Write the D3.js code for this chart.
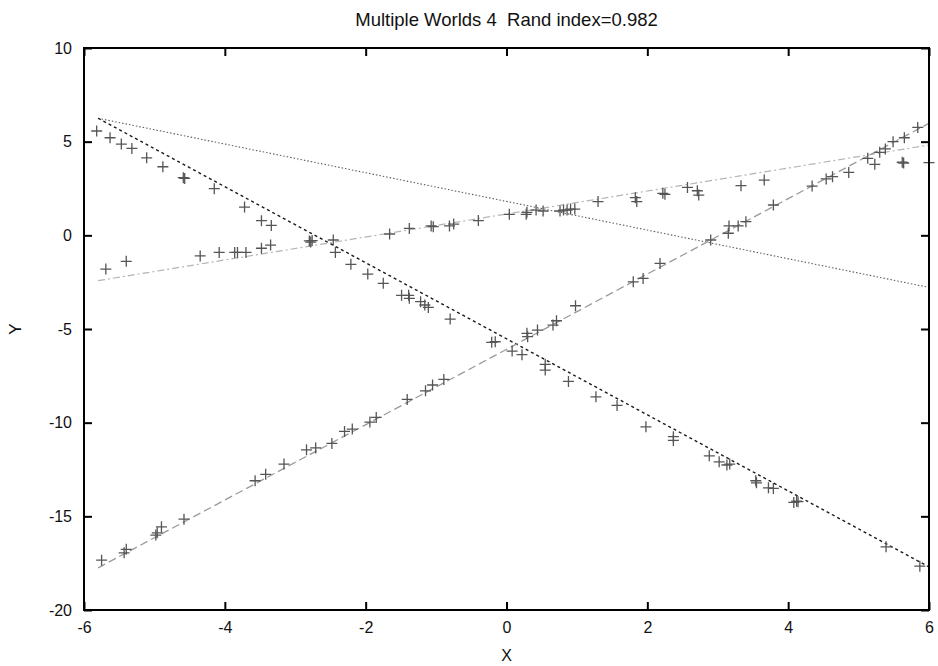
<!DOCTYPE html>
<html>
<head>
<meta charset="utf-8">
<script src="https://cdn.jsdelivr.net/npm/d3@7"></script>
<style>
  html, body { margin: 0; padding: 0; background: #ffffff; }
  svg { display: block; }
  text { font-family: "Liberation Sans", Arial, Helvetica, sans-serif; fill: #111; }
</style>
</head>
<body>
<svg id="chart" width="938" height="666"></svg>
<script>
// Observations (x, y) for the four intersecting worlds
const pointsX = [
  -5.82, -5.63, -5.47, -5.32, -5.11, -4.88, -4.59, -4.57, -4.15, -3.72, -3.48, -3.34,
  -2.80, -2.78, -2.76, -2.46, -2.43, -2.21, -1.97, -1.75, -1.49, -1.39, -1.38, -1.22,
  -1.16, -1.11, -0.80, -0.21, -0.16, 0.08, 0.22, 0.55, 0.55, 0.88, 1.27, 1.57,
  1.98, 2.37, 2.37, 2.88, 3.02, 3.13, 3.17, 3.54, 3.55, 3.72, 3.79, 4.08, 4.12, 4.14,
  5.39, 5.87,
  -5.69, -5.40, -4.35, -4.08, -3.86, -3.82, -3.70, -3.48, -3.35, -1.66, -1.38, -1.07,
  -1.04, -0.81, -0.75, -0.40, 0.04, 0.28, 0.29, 0.42, 0.52, 0.76, 0.81, 0.86, 0.91,
  0.97, 1.30, 1.83, 1.85, 2.22, 2.25, 2.57, 2.71, 2.73, 3.33, 3.66, 5.13, 5.23, 5.62,
  5.64, 6.00,
  -5.75, -5.43, -5.40, -4.98, -4.96, -4.90, -4.58, -3.57, -3.42, -3.16, -2.84, -2.71,
  -2.48, -2.30, -2.19, -1.94, -1.85, -1.41, -1.15, -1.05, -0.89, 0.29, 0.30, 0.44,
  0.66, 0.71, 0.98, 1.80, 1.94, 2.18, 2.90, 3.15, 3.16, 3.29, 3.40, 3.79, 4.34, 4.54,
  4.63, 4.86, 5.30, 5.38, 5.49, 5.65, 5.84
];
const pointsY = [
  5.57, 5.21, 4.87, 4.64, 4.14, 3.66, 3.08, 3.04, 2.49, 1.51, 0.78, 0.53,
  -0.30, -0.36, -0.28, -0.25, -0.91, -1.55, -2.07, -2.56, -3.20, -3.20, -3.36, -3.54,
  -3.72, -3.85, -4.47, -5.71, -5.68, -6.18, -6.37, -6.89, -7.19, -7.80, -8.62, -9.08,
  -10.22, -10.75, -10.95, -11.77, -12.09, -12.26, -12.21, -13.10, -13.21, -13.48, -13.51, -14.26, -14.19, -14.22,
  -16.63, -17.66,
  -1.80, -1.39, -1.10, -0.91, -0.91, -0.91, -0.91, -0.69, -0.52, 0.07, 0.37, 0.50,
  0.46, 0.50, 0.60, 0.79, 1.12, 1.12, 1.23, 1.35, 1.30, 1.30, 1.35, 1.35, 1.40,
  1.40, 1.80, 2.01, 1.80, 2.24, 2.19, 2.56, 2.38, 2.15, 2.65, 2.95, 4.11, 3.79, 3.90,
  3.86, 3.88,
  -17.34, -16.95, -16.76, -16.00, -15.88, -15.56, -15.15, -13.10, -12.76, -12.21, -11.45, -11.35,
  -11.11, -10.47, -10.34, -9.97, -9.72, -8.76, -8.30, -7.99, -7.69, -5.23, -5.41, -5.06,
  -4.79, -4.56, -3.76, -2.48, -2.30, -1.50, -0.25, 0.11, 0.50, 0.50, 0.73, 1.62, 2.63, 3.01,
  3.13, 3.36, 4.43, 4.61, 5.00, 5.21, 5.76
];

// Fitted regression lines, one per world: endpoints in data units
const lineNames = ["world1", "world2", "world3", "world4"];
const lineX0 = [-5.8, -5.8, -5.8, -5.8];
const lineY0 = [6.25, 6.25, -2.42, -17.75];
const lineX1 = [6.0, 6.0, 6.0, 6.0];
const lineY1 = [-2.78, -17.70, 4.82, 5.98];

// Axis ticks
const xTicks = [-6, -4, -2, 0, 2, 4, 6];
const yTicks = [-20, -15, -10, -5, 0, 5, 10];

const titleText = "Multiple Worlds 4  Rand index=0.982";

// Layout
const width = 938, height = 666;
const margin = { left: 84, right: 9, top: 48, bottom: 56 };
const plotW = width - margin.left - margin.right;
const plotH = height - margin.top - margin.bottom;

const x = d3.scaleLinear().domain([-6, 6]).range([margin.left, margin.left + plotW]);
const y = d3.scaleLinear().domain([-20, 10]).range([margin.top + plotH, margin.top]);

const svg = d3.select("#chart");

svg.append("rect").attr("width", width).attr("height", height).attr("fill", "#ffffff");

svg.append("defs").append("clipPath").attr("id", "plotClip")
  .append("rect")
  .attr("x", margin.left).attr("y", margin.top)
  .attr("width", plotW).attr("height", plotH);

// Line styles per world
const lineStyle = [
  { stroke: "#5e5e5e", dash: "1.5,2", width: 1.1 },
  { stroke: "#1a1a1a", dash: "3,3", width: 1.4 },
  { stroke: "#b4b4b4", dash: "7,3,2,3", width: 1.2 },
  { stroke: "#9a9a9a", dash: "8,4", width: 1.3 }
];

const lineData = lineNames.map((n, i) => ({
  name: n,
  pts: [[lineX0[i], lineY0[i]], [lineX1[i], lineY1[i]]],
  style: lineStyle[i]
}));

const lineGen = d3.line().x(d => x(d[0])).y(d => y(d[1]));

const plot = svg.append("g").attr("clip-path", "url(#plotClip)");

plot.selectAll("path.fit")
  .data(lineData)
  .join("path")
  .attr("class", "fit")
  .attr("d", d => lineGen(d.pts))
  .attr("fill", "none")
  .attr("stroke", d => d.style.stroke)
  .attr("stroke-width", d => d.style.width)
  .attr("stroke-dasharray", d => d.style.dash);

// Observations drawn as "+" markers
const pts = pointsX.map((v, i) => [v, pointsY[i]]);
const half = 5.5;
svg.append("g").selectAll("path.pt")
  .data(pts)
  .join("path")
  .attr("class", "pt")
  .attr("d", d => {
    const cx = x(d[0]), cy = y(d[1]);
    return `M${cx - half},${cy}H${cx + half}M${cx},${cy - half}V${cy + half}`;
  })
  .attr("stroke", "#555555")
  .attr("stroke-width", 1.3)
  .attr("fill", "none");

// Axes with inward ticks on all four sides; plain hyphen for negatives
const tickLen = 8;
const fmt = d => String(d);
const axisBottom = d3.axisBottom(x).tickValues(xTicks).tickSize(-tickLen).tickPadding(12).tickFormat(fmt);
const axisTop = d3.axisTop(x).tickValues(xTicks).tickSize(-tickLen).tickFormat("");
const axisLeft = d3.axisLeft(y).tickValues(yTicks).tickSize(-tickLen).tickPadding(12).tickFormat(fmt);
const axisRight = d3.axisRight(y).tickValues(yTicks).tickSize(-tickLen).tickFormat("");

function styleAxis(g) {
  g.select(".domain").remove();
  g.selectAll(".tick line").attr("stroke", "#000").attr("stroke-width", 2);
  g.selectAll(".tick text")
    .attr("font-size", 16)
    .attr("fill", "#111")
    .style("font-family", "'Liberation Sans', Arial, Helvetica, sans-serif");
}

svg.append("g").attr("transform", `translate(0,${margin.top + plotH})`).call(axisBottom).call(styleAxis);
svg.append("g").attr("transform", `translate(0,${margin.top})`).call(axisTop).call(styleAxis);
svg.append("g").attr("transform", `translate(${margin.left},0)`).call(axisLeft).call(styleAxis);
svg.append("g").attr("transform", `translate(${margin.left + plotW},0)`).call(axisRight).call(styleAxis);

// Frame
svg.append("rect")
  .attr("x", margin.left).attr("y", margin.top)
  .attr("width", plotW).attr("height", plotH)
  .attr("fill", "none").attr("stroke", "#000").attr("stroke-width", 2);

// Title and axis labels
svg.append("text")
  .attr("x", x(0)).attr("y", 26)
  .attr("text-anchor", "middle")
  .attr("font-size", 18.5)
  .style("white-space", "pre")
  .text(titleText);

svg.append("text")
  .attr("x", x(0)).attr("y", 661)
  .attr("text-anchor", "middle")
  .attr("font-size", 16)
  .attr("fill", "#444")
  .text("X");

svg.append("text")
  .attr("transform", `translate(21,${y(-5)}) rotate(-90)`)
  .attr("text-anchor", "middle")
  .attr("font-size", 17)
  .attr("fill", "#444")
  .text("Y");
</script>
</body>
</html>
